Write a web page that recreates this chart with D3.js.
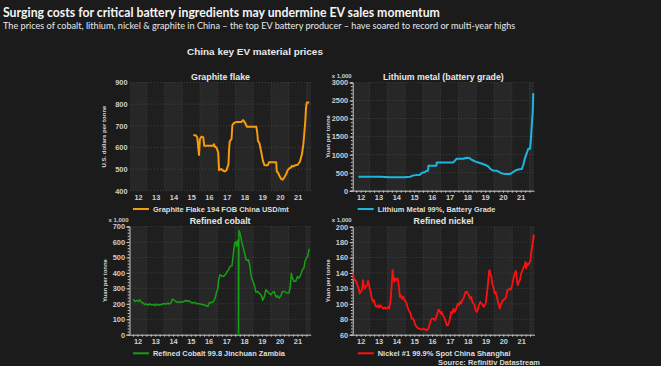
<!DOCTYPE html>
<html><head><meta charset="utf-8">
<script src="https://cdn.jsdelivr.net/npm/d3@7/dist/d3.min.js"></script>
<style>html,body{margin:0;padding:0;background:#1b1b1b;overflow:hidden}</style>
</head><body>
<svg id="c" width="661" height="366"></svg>
<script>
// ---------- DATA ----------
const years = [2012,2013,2014,2015,2016,2017,2018,2019,2020,2021];

const graphiteTicks = [400,500,600,700,800,900];
const lithiumTicks = [0,500,1000,1500,2000,2500,3000];
const cobaltTicks = [0,100,200,300,400,500,600,700];
const nickelTicks = [60,80,100,120,140,160,180,200];

const graphiteDates = [2015.62,2015.77,2015.84,2015.94,2015.99,2016.08,2016.18,2016.23,2016.74,2016.78,
 2016.83,2016.92,2017.02,2017.07,2017.20,2017.30,2017.39,2017.49,2017.60,2017.63,
 2017.67,2017.77,2017.82,2017.90,2018.05,2018.33,2018.42,2018.47,2018.57,2018.64,
 2019.17,2019.22,2019.26,2019.35,2019.45,2019.54,2019.63,2019.82,2019.88,2020.19,
 2020.29,2020.32,2020.38,2020.47,2020.57,2020.66,2020.75,2020.85,2020.94,2021.03,
 2021.13,2021.18,2021.26,2021.37,2021.50,2021.63,2021.74,2021.82,2021.87,2021.93,
 2021.97,2022.02,2022.15];
const graphitePrices = [657,655,646,565,638,650,646,608,608,615,
 603,600,577,495,500,492,489,495,523,585,
 628,638,703,712,718,718,726,722,708,695,
 695,669,631,618,577,538,518,518,531,531,
 531,489,485,469,454,451,462,477,495,503,
 508,515,512,518,520,535,569,615,662,723,
 785,808,808];

const lithiumDates = [2012.37,2013.0,2013.6,2014.15,2014.5,2014.9,2015.28,2015.46,2015.84,2015.93,
 2016.12,2016.21,2016.29,2016.31,2016.68,2016.76,2016.78,2017.71,2017.90,2018.28,
 2018.46,2018.61,2018.74,2018.93,2019.21,2019.49,2019.68,2019.78,2019.93,2020.15,
 2020.30,2020.43,2020.62,2020.90,2020.99,2021.18,2021.37,2021.56,2021.65,2021.74,
 2021.84,2021.93,2022.03,2022.08,2022.14,2022.18,2022.21];
const lithiumPrices = [385,385,385,375,370,372,388,425,443,489,
 517,554,554,692,692,692,785,785,886,886,
 914,905,858,812,766,720,674,609,563,554,
 517,480,462,462,489,554,591,600,720,905,
 1043,1163,1163,1458,1920,2197,2705];

const cobaltDates = [
 2012.26,2012.35,2012.44,2012.54,2012.63,2012.72,2012.82,2012.91,2013.00,2013.10,
 2013.19,2013.28,2013.38,2013.47,2013.56,2013.66,2013.75,2013.84,2013.94,2014.03,
 2014.12,2014.22,2014.31,2014.40,2014.46,2014.54,2014.65,2014.74,2014.83,2014.93,
 2015.02,2015.11,2015.21,2015.30,2015.39,2015.49,2015.58,2015.67,2015.77,2015.86,
 2015.99,2016.14,2016.27,2016.36,2016.46,2016.51,2016.59,2016.70,2016.78,2016.89,
 2016.96,2017.02,2017.07,2017.15,2017.21,2017.30,2017.39,2017.49,2017.54,2017.63,
 2017.71,2017.82,2017.90,2017.97,2018.05,2018.08,2018.14,2018.18,2018.19,2018.21,
 2018.27,2018.33,2018.38,2018.46,2018.53,2018.61,2018.70,2018.75,2018.83,2018.90,
 2018.98,2019.07,2019.17,2019.26,2019.35,2019.45,2019.50,2019.54,2019.63,2019.73,
 2019.82,2019.91,2020.01,2020.10,2020.19,2020.25,2020.32,2020.38,2020.47,2020.57,
 2020.66,2020.75,2020.85,2020.94,2021.03,2021.09,2021.16,2021.22,2021.31,2021.41,
 2021.50,2021.59,2021.69,2021.78,2021.87,2021.93,2022.00,2022.08,2022.15,2022.19];
const cobaltPrices = [
 230,215,222,215,226,209,205,194,200,190,
 200,192,196,187,198,190,196,194,200,200,
 198,205,198,209,230,226,215,209,213,209,
 215,213,222,215,220,211,205,209,205,200,
 200,196,192,187,183,200,209,209,215,243,
 280,295,355,388,383,377,381,394,409,420,
 442,446,528,592,603,571,603,615,0,674,
 657,625,592,560,528,485,480,485,442,377,
 351,323,274,280,269,258,243,222,243,291,
 280,269,258,274,280,258,243,252,237,252,
 280,280,274,269,269,302,398,366,345,345,
 377,366,388,420,431,474,495,506,549,554];

const nickelDates = [
 2012.07,2012.12,2012.20,2012.26,2012.31,2012.39,2012.44,2012.50,2012.56,2012.59,
 2012.63,2012.67,2012.73,2012.78,2012.86,2012.91,2012.97,2013.01,2013.06,2013.12,
 2013.20,2013.25,2013.31,2013.38,2013.48,2013.53,2013.61,2013.68,2013.76,2013.85,
 2013.95,2014.04,2014.10,2014.17,2014.23,2014.29,2014.32,2014.38,2014.44,2014.51,
 2014.57,2014.62,2014.66,2014.70,2014.75,2014.81,2014.89,2014.94,2015.00,2015.07,
 2015.13,2015.19,2015.26,2015.32,2015.37,2015.45,2015.51,2015.58,2015.64,2015.73,
 2015.83,2015.92,2016.01,2016.11,2016.20,2016.30,2016.35,2016.43,2016.48,2016.58,
 2016.67,2016.73,2016.80,2016.86,2016.92,2016.99,2017.05,2017.10,2017.18,2017.24,
 2017.33,2017.39,2017.46,2017.52,2017.57,2017.63,2017.71,2017.76,2017.82,2017.89,
 2017.95,2018.01,2018.08,2018.14,2018.19,2018.27,2018.32,2018.38,2018.46,2018.51,
 2018.57,2018.64,2018.70,2018.76,2018.83,2018.89,2018.94,2019.02,2019.08,2019.13,
 2019.21,2019.26,2019.32,2019.40,2019.45,2019.51,2019.58,2019.64,2019.70,2019.73,
 2019.77,2019.83,2019.88,2019.96,2020.02,2020.07,2020.15,2020.20,2020.26,2020.30,
 2020.35,2020.43,2020.49,2020.54,2020.62,2020.67,2020.73,2020.80,2020.86,2020.92,
 2020.97,2021.03,2021.09,2021.14,2021.20,2021.26,2021.31,2021.37,2021.43,2021.48,
 2021.54,2021.59,2021.65,2021.71,2021.74,2021.78,2021.84,2021.89,2021.95,2022.03,
 2022.06,2022.12,2022.16,2022.20,2022.21];
const nickelPrices = [
 139.3,132.8,130.7,128.5,124.2,119.8,113.3,115.5,117.7,122.0,
 130.7,124.2,119.8,122.9,124.2,129.8,124.2,119.8,115.5,106.8,
 102.5,104.7,98.2,96.0,98.2,95.1,98.2,96.0,93.8,95.1,
 93.8,96.0,93.8,102.5,122.0,143.7,137.2,128.5,132.8,130.7,
 132.8,126.3,117.7,109.0,111.2,106.8,109.0,105.5,103.8,101.2,
 96.0,91.6,89.5,85.2,80.8,80.8,76.5,72.1,70.0,67.8,
 67.8,66.5,67.8,66.9,65.6,67.8,72.1,78.6,80.8,80.8,
 78.6,83.0,87.3,92.5,91.6,87.3,89.5,85.2,83.0,78.6,
 72.1,72.1,76.5,83.0,89.5,87.3,93.8,89.5,91.6,96.0,
 100.3,98.2,102.5,100.3,104.7,106.8,111.2,115.5,115.5,113.3,
 111.2,106.8,109.0,102.5,100.3,98.2,91.6,89.5,93.8,98.2,
 102.5,100.3,99.4,96.0,98.2,100.3,113.3,126.3,141.5,143.7,
 139.3,135.0,126.3,119.8,113.3,115.5,108.1,102.5,98.2,93.8,
 98.2,102.5,104.7,105.5,106.8,111.2,117.7,118.5,119.8,118.5,
 122.0,128.5,135.0,139.3,142.8,132.8,124.2,128.5,130.7,137.2,
 141.5,144.5,148.0,150.2,154.5,145.8,152.3,150.2,152.3,156.7,
 165.3,174.0,180.5,189.2,184.8];

// ---------- TEXT ----------
const mainTitle = "Surging costs for critical battery ingredients may undermine EV sales momentum";
const subTitle = "The prices of cobalt, lithium, nickel & graphite in China \u2013 the top EV battery producer \u2013 have soared to record or multi-year highs";
const chartTitle = "China key EV material prices";
const sourceText = "Source: Refinitiv Datastream";

// ---------- LAYOUT ----------
const svg = d3.select('#c');
svg.append('rect').attr('width',661).attr('height',366).attr('fill','#1b1b1b');

function fit(sel, w){
  const n = sel.node(); const cur = n.getComputedTextLength();
  const fs = parseFloat(sel.attr('font-size'));
  if (cur>0) sel.attr('font-size', (fs*w/cur).toFixed(2));
  return sel;
}

fit(svg.append('text').attr('x',3).attr('y',16.5).attr('font-family','Lato, sans-serif').attr('font-weight',700)
  .attr('font-size',14).attr('fill','#f4f4f4').text(mainTitle), 437);
fit(svg.append('text').attr('x',3).attr('y',29).attr('font-family','Lato, sans-serif').attr('font-weight',400)
  .attr('font-size',10).attr('fill','#e8e8e8').text(subTitle), 513);
fit(svg.append('text').attr('x',255).attr('y',55).attr('text-anchor','middle').attr('font-family','Liberation Sans, Arial, sans-serif')
  .attr('font-weight',700).attr('font-size',10).attr('fill','#e8e8e8').text(chartTitle), 136);
fit(svg.append('text').attr('x',540).attr('y',364.5).attr('text-anchor','end').attr('font-family','Liberation Sans, Arial, sans-serif')
  .attr('font-weight',700).attr('font-size',8).attr('fill','#d8d8d8').text(sourceText), 102);

const panels = [
 {dates:graphiteDates, values:graphitePrices, color:'#f59b0c', lw:2, box:[130,82.5,311,190.7], ticks:graphiteTicks,
  title:'Graphite flake', titleW:59, titleY:79.5, yLabel:'U.S. dollars per tonne', yLabelW:62, yLabelX:106,
  legend:'Graphite Flake 194 FOB China USD/mt', legendW:136, legendX:133, legendY:209, axes:false, unit:false},
 {dates:lithiumDates, values:lithiumPrices, color:'#1cb6e0', lw:2, box:[352.7,82.5,534,190.7], ticks:lithiumTicks,
  title:'Lithium metal (battery grade)', titleW:121, titleY:79.5, yLabel:'Yuan per tonne', yLabelW:43, yLabelX:330,
  legend:'Lithium Metal 99%, Battery Grade', legendW:118, legendX:357.7, legendY:209, axes:true, unit:true},
 {dates:cobaltDates, values:cobaltPrices, color:'#15a015', lw:1.5, box:[129.5,226.5,310.7,334.7], ticks:cobaltTicks,
  title:'Refined cobalt', titleW:61, titleY:223.5, yLabel:'Yuan per tonne', yLabelW:43, yLabelX:107,
  legend:'Refined Cobalt 99.8 Jinchuan Zambia', legendW:132, legendX:133, legendY:353.3, axes:true, unit:true},
 {dates:nickelDates, values:nickelPrices, color:'#ff1010', lw:1.8, box:[352.7,226.7,534.5,334.7], ticks:nickelTicks,
  title:'Refined nickel', titleW:60, titleY:223.5, yLabel:'Yuan per tonne', yLabelW:43, yLabelX:330,
  legend:'Nickel #1 99.9% Spot China Shanghai', legendW:133, legendX:357.7, legendY:353.3, axes:true, unit:true}
];

const font = 'Liberation Sans, Arial, sans-serif';
const xDomain = [2012.05, 2022.25];

panels.forEach(p => {
  const [L,T,R,B] = p.box;
  const x = d3.scaleLinear().domain(xDomain).range([L,R]);
  const tmin = p.ticks[0], tmax = p.ticks[p.ticks.length-1];
  const y = d3.scaleLinear().domain([tmin,tmax]).range([B,T]);
  const g = svg.append('g');

  g.append('rect').attr('x',L).attr('y',T).attr('width',R-L).attr('height',B-T).attr('fill','#1f1f1f');
  const bandYears = years.concat([2022]);
  g.selectAll('rect.band').data(bandYears.filter(yr => yr%2===0)).enter().append('rect')
    .attr('class','band')
    .attr('x', yr => Math.max(L, x(yr)))
    .attr('width', yr => Math.min(R, x(yr+1)) - Math.max(L, x(yr)))
    .attr('y',T).attr('height',B-T).attr('fill','#272727');

  g.selectAll('line.hg').data(p.ticks).enter().append('line')
    .attr('x1',L).attr('x2',R).attr('y1',d=>y(d)).attr('y2',d=>y(d))
    .attr('stroke','#4a4a4a').attr('stroke-width',0.8).attr('stroke-dasharray','1,2');
  g.selectAll('line.vg').data(years.slice(1).concat([2022])).enter().append('line')
    .attr('x1',d=>x(d)).attr('x2',d=>x(d)).attr('y1',T).attr('y2',B)
    .attr('stroke','#4a4a4a').attr('stroke-width',0.8).attr('stroke-dasharray','1,2');

  const yAxis = d3.axisLeft(y).tickValues(p.ticks).tickFormat(d3.format('d')).tickSize(p.axes?3:0).tickPadding(p.axes?1.5:2.5);
  const ya = g.append('g').attr('transform',`translate(${L},0)`).call(yAxis);
  const xAxis = d3.axisBottom(x).tickValues(years.map(v=>v+0.5)).tickFormat(v=>String(Math.floor(v)).slice(2)).tickSize(0).tickPadding(4);
  const xa = g.append('g').attr('transform',`translate(0,${B})`).call(xAxis);
  [ya,xa].forEach(a => {
    a.selectAll('text').attr('font-family',font).attr('font-size',7.4).attr('font-weight',700).attr('fill','#cfcfcf');
    a.select('.domain').attr('stroke', p.axes ? '#c8c8c8' : 'none');
    a.selectAll('.tick line').attr('stroke','#c8c8c8');
  });
  if (p.axes) {
    const step = (p.ticks[1]-p.ticks[0])/5;
    const minorY = d3.range(tmin, tmax+step/2, step);
    g.append('g').attr('transform',`translate(${L},0)`)
      .call(d3.axisLeft(y).tickValues(minorY).tickFormat('').tickSize(1.8))
      .call(a => { a.select('.domain').remove(); a.selectAll('line').attr('stroke','#c8c8c8'); });
    const minorX = d3.range(2012.25, 2022.25, 0.25);
    g.append('g').attr('transform',`translate(0,${B})`)
      .call(d3.axisBottom(x).tickValues(minorX).tickFormat('').tickSize(2))
      .call(a => { a.select('.domain').remove(); a.selectAll('line').attr('stroke','#c8c8c8'); });
    g.append('text').attr('x',L-1).attr('y',T-4.5).attr('text-anchor','end').attr('font-family',font)
      .attr('font-size',6).attr('font-weight',700).attr('fill','#cfcfcf').text('x 1,000');
  }

  const pts = p.dates.map((d,i)=>[d,p.values[i]]);
  g.append('path').datum(pts)
    .attr('d', d3.line().x(d=>x(d[0])).y(d=>y(d[1])))
    .attr('fill','none').attr('stroke',p.color).attr('stroke-width',p.lw).attr('stroke-linejoin','round');

  fit(g.append('text').attr('x',(L+R)/2).attr('y',p.titleY).attr('text-anchor','middle').attr('font-family',font)
    .attr('font-weight',700).attr('font-size',9).attr('fill','#e6e6e6').text(p.title), p.titleW);
  fit(g.append('text').attr('transform',`translate(${p.yLabelX},${(T+B)/2}) rotate(-90)`).attr('text-anchor','middle')
    .attr('font-family',font).attr('font-weight',700).attr('font-size',7).attr('fill','#d6d6d6').text(p.yLabel), p.yLabelW);

  g.append('line').attr('x1',p.legendX).attr('x2',p.legendX+16).attr('y1',p.legendY).attr('y2',p.legendY)
    .attr('stroke',p.color).attr('stroke-width',2);
  fit(g.append('text').attr('x',p.legendX+20).attr('y',p.legendY+3).attr('font-family',font).attr('font-weight',700)
    .attr('font-size',8).attr('fill','#dedede').text(p.legend), p.legendW);
});
</script>
</body></html>
